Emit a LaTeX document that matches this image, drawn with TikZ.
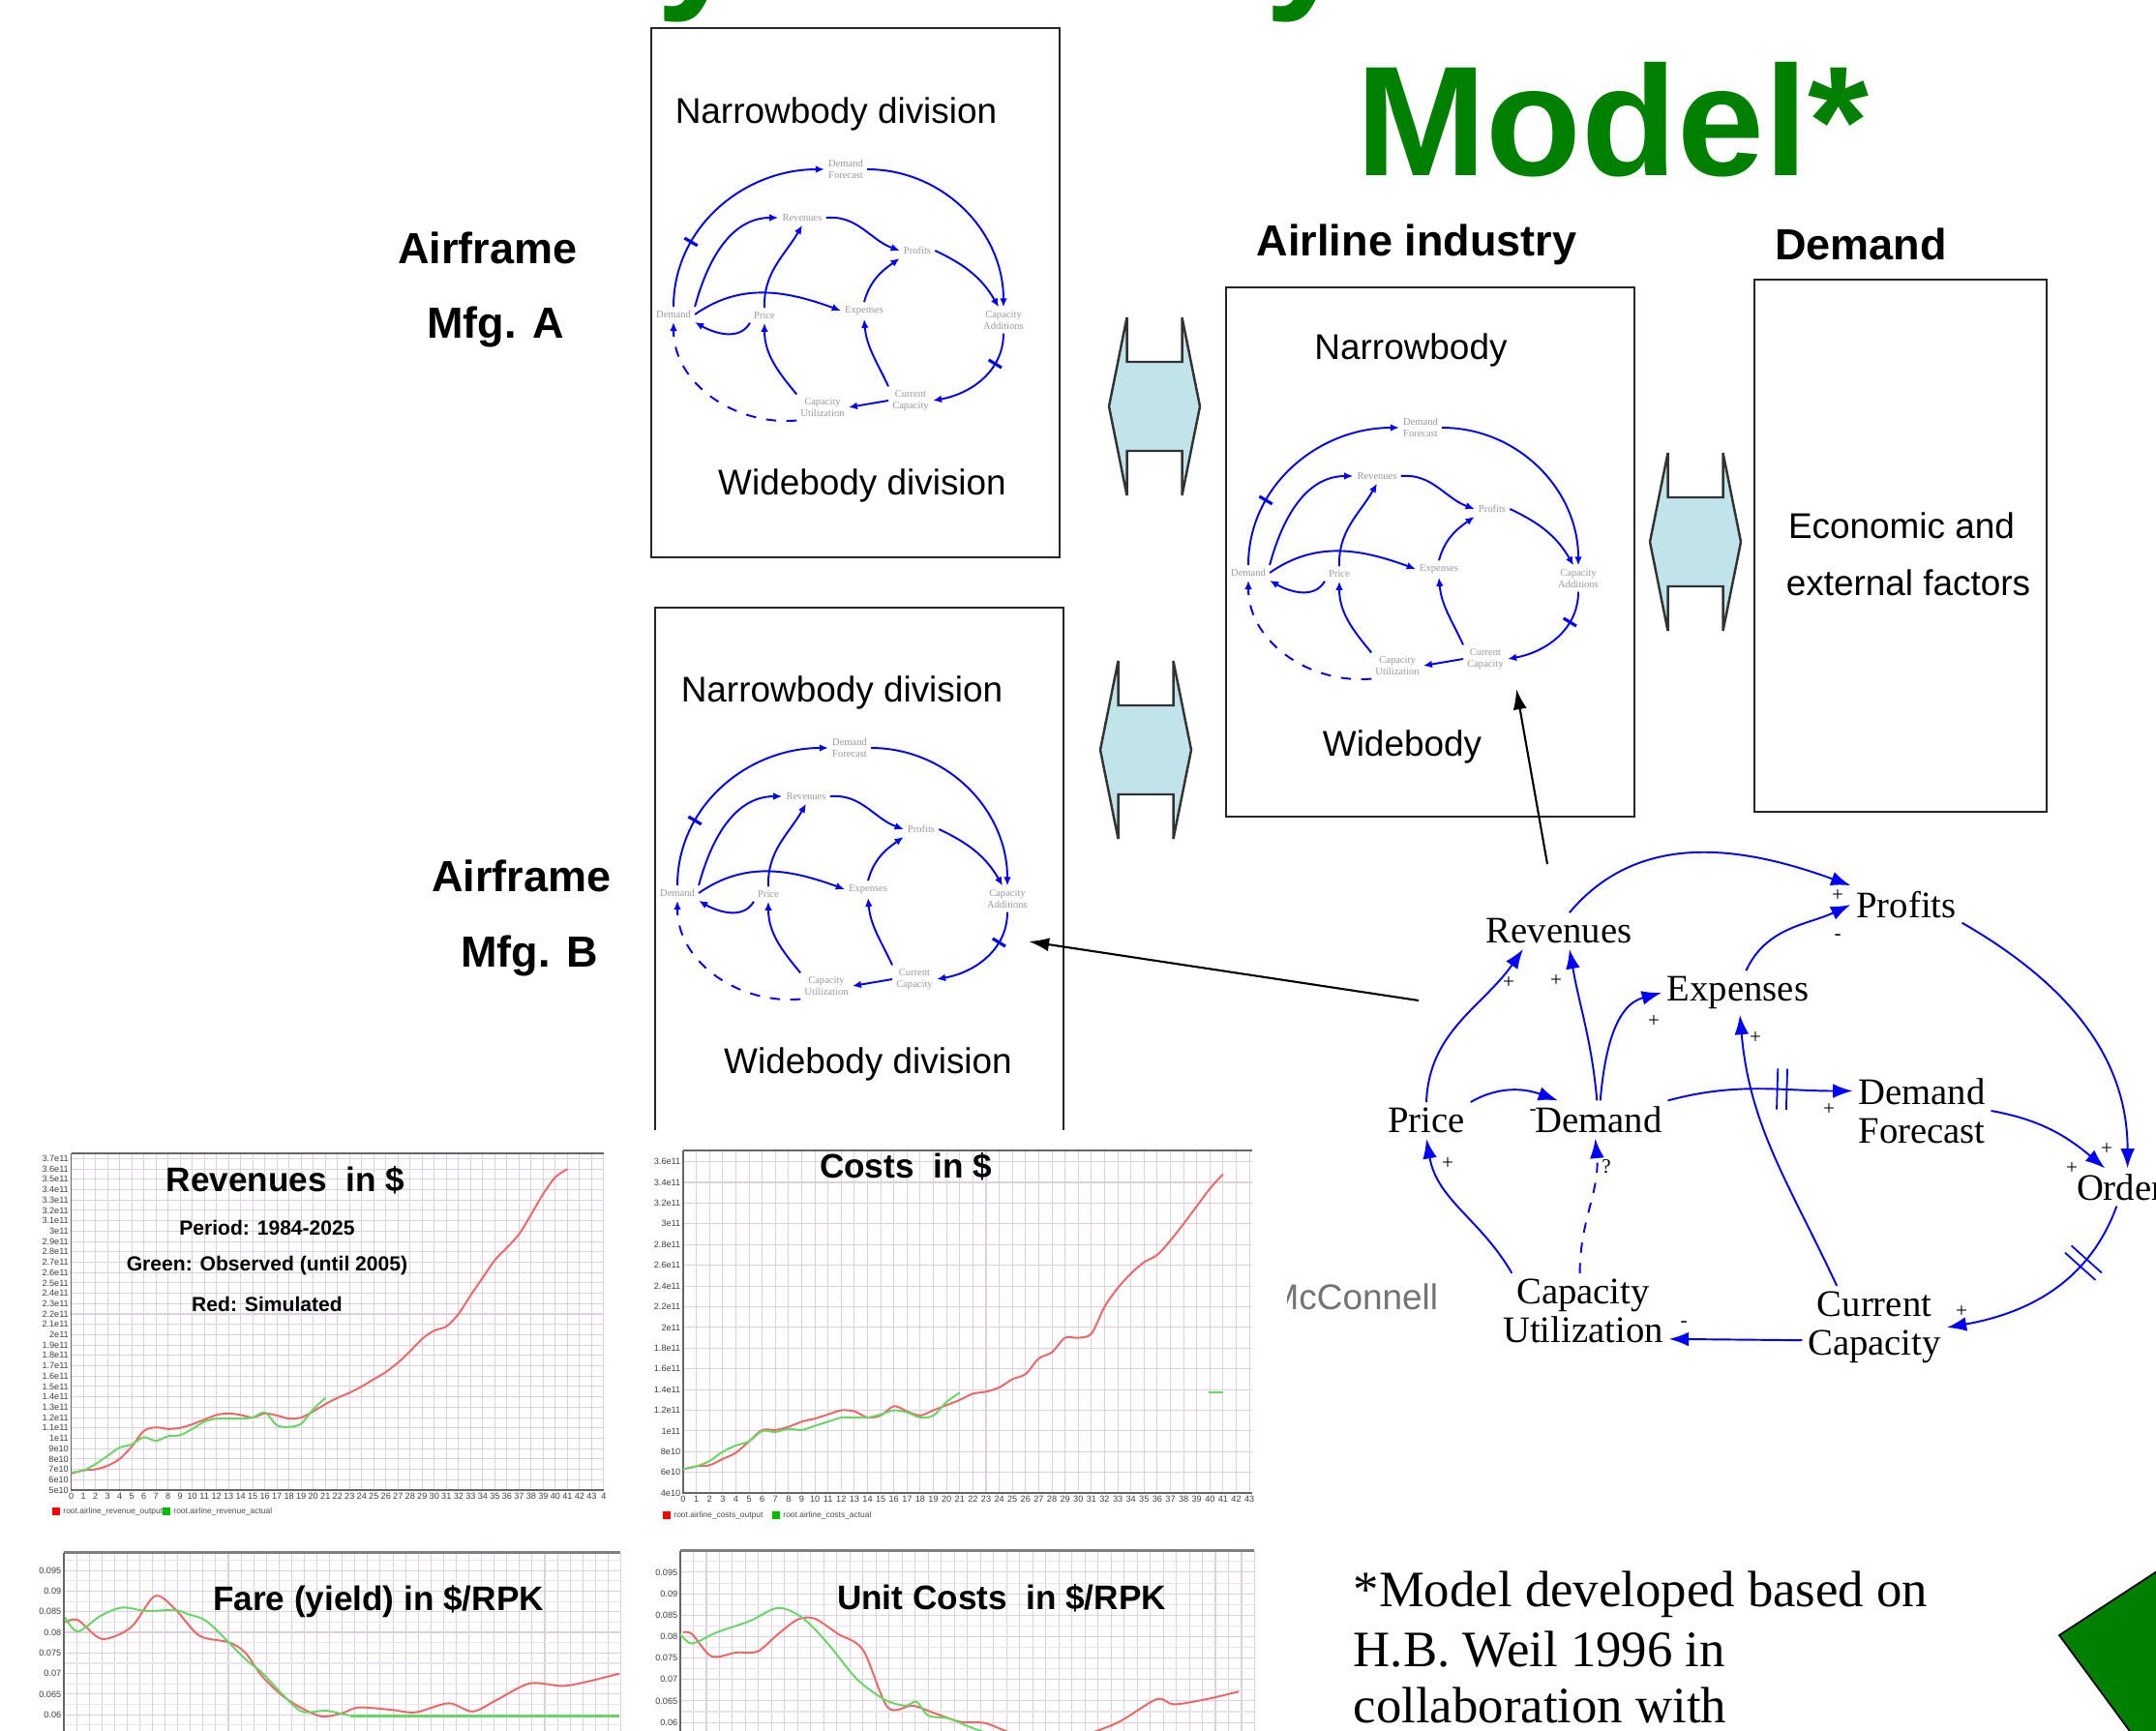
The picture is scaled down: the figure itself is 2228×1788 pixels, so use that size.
\documentclass[tikz,border=0pt]{standalone}
\usepackage{fontspec}
\setmainfont{Liberation Sans}
\newfontfamily\timesfont{Liberation Serif}
\usetikzlibrary{arrows.meta, positioning, calc, decorations.markings}

\definecolor{titlegreen}{RGB}{0,128,0}
\definecolor{couplerblue}{RGB}{193,228,234}
\definecolor{gridpink}{RGB}{222,208,224}
\definecolor{loopblue}{RGB}{0,0,255}
\definecolor{simred}{RGB}{240,100,100}
\definecolor{obsgreen}{RGB}{100,215,100}

\tikzset{
  headline/.style={font=\fontsize{46}{50}\selectfont\bfseries, text=titlegreen, inner sep=0pt},
  panel/.style={draw=black!85, line width=0.45pt},
  boxlabel/.style={font=\fontsize{12.8}{14}\selectfont\bfseries},
  divlabel/.style={font=\fontsize{10.5}{12}\selectfont},
  cvar/.style={font=\timesfont\fontsize{11}{11.5}\selectfont, inner sep=1.5pt, align=center},
  pol/.style={font=\timesfont\fontsize{6}{6}\selectfont, inner sep=0pt},
  link/.style={draw=loopblue, line width=0.55pt, -{Latex[length=5.8pt,width=4.2pt]}},
  delay/.style={postaction={decorate}, decoration={markings, mark=at position #1 with {\draw[-, loopblue, line width=0.5pt] (-1.4pt,-6pt) -- (-1.4pt,6pt) (1.4pt,-6pt) -- (1.4pt,6pt);}}},
  mini/.style={font=\timesfont\fontsize{3}{3.3}\selectfont, text=black!40, inner sep=1pt, align=center},
  minilink/.style={draw=loopblue, line width=0.55pt, -{Latex[length=2.6pt,width=2.2pt]}},
  minidelay/.style={postaction={decorate}, decoration={markings, mark=at position #1 with {\draw[-, loopblue, line width=0.9pt] (0,-2.2pt) -- (0,2.2pt);}}},
  feed/.style={draw=black, line width=0.6pt, -{Latex[length=6pt,width=4pt]}},
  gridline/.style={draw=gridpink, line width=0.3pt},
  chartaxis/.style={draw=black!60, line width=0.45pt},
  ticklabel/.style={font=\fontsize{2.6}{3}\selectfont, text=black!75, inner sep=0.6pt},
  simline/.style={draw=simred, line width=0.55pt},
  obsline/.style={draw=obsgreen, line width=0.55pt},
  charttitle/.style={font=\fontsize{10}{11}\selectfont\bfseries},
  chartnote/.style={font=\fontsize{6}{7}\selectfont\bfseries},
  legendtext/.style={font=\fontsize{2.4}{3}\selectfont, text=black!70, inner sep=0.5pt, anchor=west},
  foot/.style={font=\timesfont\fontsize{15}{17}\selectfont, inner sep=0pt, anchor=base west},
  coupler/.pic={
    \filldraw[fill=couplerblue, draw=black!80, line width=0.7pt]
      (-28.5,92) -- (-28.5,46) -- (28.5,46) -- (28.5,92) -- (47,0) -- (28.5,-92)
      -- (28.5,-46) -- (-28.5,-46) -- (-28.5,-92) -- (-47,0) -- cycle;
  },
  minicld/.pic={
    \node[mini] (-df) at (0,125) {Demand\\Forecast};
    \node[mini] (-rev) at (-45,75) {Revenues};
    \node[mini] (-prof) at (74,41) {Profits};
    \node[mini] (-dem) at (-178,-25) {Demand};
    \node[mini] (-price) at (-84,-26) {Price};
    \node[mini] (-exp) at (19,-21) {Expenses};
    \node[mini] (-cadd) at (163,-31) {Capacity\\Additions};
    \node[mini] (-cc) at (67,-114) {Current\\Capacity};
    \node[mini] (-cu) at (-24,-121) {Capacity\\Utilization};
    \draw[minilink, minidelay=0.3] (-dem.north) to[out=90,in=180] (-df.west);
    \draw[minilink] (-df.east) to[out=0,in=90] (-cadd.north);
    \draw[minilink] (-dem.north east) to[out=75,in=180] (-rev.west);
    \draw[minilink] (-rev.east) to[out=5,in=160] (-prof.west);
    \draw[minilink] (-price.north) to[out=92,in=240] (-rev.south);
    \draw[minilink] (-dem.east) to[out=35,in=160] (-exp.west);
    \draw[minilink] (-price.south west) to[out=-120,in=-30] (-dem.south east);
    \draw[minilink] (-exp.north) to[out=75,in=215] (-prof.south west);
    \draw[minilink] (-prof.east) to[out=-25,in=120] (-cadd.110);
    \draw[minilink, minidelay=0.3] (-cadd.south) to[out=-90,in=10] (-cc.east);
    \draw[minilink] (-cc.north west) to[out=115,in=-85] (-exp.south);
    \draw[minilink] (-cc.west) -- (-cu.east);
    \draw[minilink] (-cu.north west) to[out=130,in=-90] (-price.south);
    \draw[minilink, dashed] (-cu.south west) to[out=185,in=-90] (-dem.south);
  }
}

\begin{document}
\begin{tikzpicture}[x=0.01cm, y=0.01cm]
\useasboundingbox (0,-1788) rectangle (2228,0);
\clip (0,-1788) rectangle (2228,0);
\fill[white] (0,-1788) rectangle (2228,0);

% title, cut off by the top edge
\node[headline, anchor=base east] (ttop) at (1956,10) {System Dynamics};
\node[headline, anchor=base east] (tmodel) at (1932,-182) {Model*};

% manufacturers
\node[boxlabel] (afA) at (504,-256) {Airframe};
\node[boxlabel] (mfgA) at (512,-338) {Mfg. A};
\node[boxlabel] (afB) at (539,-905) {Airframe};
\node[boxlabel] (mfgB) at (547,-988) {Mfg. B};
\node[panel, minimum width=4.22cm, minimum height=5.47cm, anchor=north west] (boxA) at (672,-28) {};
\node[panel, minimum width=4.22cm, minimum height=5.63cm, anchor=north west] (boxB) at (676,-627) {};
\node[divlabel] (nbA) at (864,-118) {Narrowbody division};
\node[divlabel] (wbA) at (891,-502) {Widebody division};
\node[divlabel] (nbB) at (870,-716) {Narrowbody division};
\node[divlabel] (wbB) at (897,-1100) {Widebody division};
\pic (cldA) at (874,-300) {minicld};
\pic (cldB) at (878,-898) {minicld};

% airline industry and demand
\node[boxlabel] (airl) at (1464,-253) {Airline industry};
\node[boxlabel] (dmd) at (1923,-252) {Demand};
\node[panel, minimum width=4.22cm, minimum height=5.47cm, anchor=north west] (boxI) at (1266,-296) {};
\node[panel, minimum width=3.02cm, minimum height=5.50cm, anchor=north west] (boxD) at (1812,-288) {};
\node[divlabel] (nbI) at (1458,-362) {Narrowbody};
\node[divlabel] (wbI) at (1449,-772) {Widebody};
\node[divlabel] (econ) at (1965,-543) {Economic and};
\node[divlabel] (ext) at (1972,-602) {external factors};
\pic (cldI) at (1468,-567) {minicld};

% couplings
\pic (cplA) at (1193,-420) {coupler};
\pic (cplB) at (1184,-775) {coupler};
\pic (cplD) at (1752,-560) {coupler};

\node[anchor=base west, font=\fontsize{10.5}{12}\selectfont, text=black!55, inner sep=0pt] (mcc) at (1311,-1353) {McConnell};

% main causal loop diagram
\node[cvar] (rev) at (1611,-962) {Revenues};
\node[cvar] (prof) at (1970,-935) {Profits};
\node[cvar] (exp) at (1796,-1026) {Expenses};
\node[cvar] (price) at (1474,-1158) {Price};
\node[cvar] (dem) at (1652,-1157) {Demand};
\node[cvar] (df) at (1986,-1148) {Demand\\Forecast};
\node[cvar, anchor=west] (ord) at (2140,-1227) {Orders};
\node[cvar] (cu) at (1636,-1355) {Capacity\\Utilization};
\node[cvar] (cc) at (1937,-1372) {Current\\Capacity};

\draw[link] (rev.60) to[out=50,in=160] (prof.north west);
\draw[link] (exp.70) to[out=65,in=205] (prof.west);
\draw[link] (price.north) to[out=88,in=235] (rev.207);
\draw[link] (dem.95) to[out=95,in=-80] (rev.300);
\draw[link] (dem.85) to[out=85,in=195] (exp.west);
\draw[link] (price.north east) to[out=30,in=160] (dem.155);
\draw[link, delay=0.62] (dem.north east) to[out=15,in=180] (df.164);
\draw[link] (cc.132) to[out=115,in=-85] (exp.-85);
\draw[link] (prof.-18) to[out=-30,in=90] (ord.north);
\draw[link] (df.east) to[out=-10,in=140] (ord.140);
\draw[link, delay=0.3] (ord.240) to[out=-110,in=10] (cc.east);
\draw[link] (cc.190) -- (cu.-18);
\draw[link] (cu.152) to[out=120,in=-80] (price.south);
\draw[link, dashed] (cu.95) to[out=90,in=-85] (dem.-100);

\node[pol] (pol1) at (1899,-926) {+};
\node[pol] (pol2) at (1899,-969) {-};
\node[pol] (pol3) at (1559,-1016) {+};
\node[pol] (pol4) at (1608,-1014) {+};
\node[pol] (pol5) at (1709,-1056) {+};
\node[pol] (pol6) at (1584,-1150) {-};
\node[pol] (pol7) at (1890,-1147) {+};
\node[pol] (pol8) at (1814,-1073) {+};
\node[pol] (pol9) at (2177,-1188) {+};
\node[pol] (pol10) at (2141,-1208) {+};
\node[pol] (pol11) at (2027,-1356) {+};
\node[pol] (pol12) at (1740,-1369) {-};
\node[pol] (pol13) at (1496,-1203) {+};
\node[pol] (pol14) at (1660,-1206) {?};

% links from the loop diagram to the sectors
\coordinate (srcI) at (1599,-893);
\coordinate (tipI) at (1567,-712);
\draw[feed] (srcI) -- (tipI);
\coordinate (srcB) at (1466,-1034);
\coordinate (tipB) at (1063,-973);
\draw[feed] (srcB) -- (tipB);

% revenue chart
\fill[white] (20,-1595) rectangle (662,-1168);
\begin{scope}[shift={(73.6,-1593.5)}, x=0.125cm, y=0.107cm]
  \foreach \t in {0,...,44} \draw[gridline] (\t,5) -- (\t,37.5);
  \foreach \val in {6,...,37} \draw[gridline] (0,\val) -- (44,\val);
  \draw[chartaxis] (0,37.5) -- (44,37.5);
  \draw[chartaxis] (0,37.5) -- (0,5) -- (44,5);
  \foreach \t in {0,...,43} \node[ticklabel, below] (rx\t) at (\t,5) {\t};
  \node[ticklabel, below] (rx44) at (44,5) {4};
  \foreach \val in {5,...,9} \node[ticklabel, left] (ry\val) at (0,\val) {\val e10};
  \foreach \val/\l in {10/1,20/2,30/3} \node[ticklabel, left] (ry\val) at (0,\val) {\l e11};
  \foreach \a in {1,2} \foreach \b in {1,...,9} \node[ticklabel, left] (ry\a\b) at (0,\a\b) {\a.\b e11};
  \foreach \b in {1,...,7} \node[ticklabel, left] (ry3\b) at (0,3\b) {3.\b e11};
  \draw[simline] plot[smooth] coordinates {(0,6.6) (1,6.9) (2,7.0) (3,7.35) (4,8.0) (5,9.2) (6,10.7) (7,11.05) (8,10.9) (9,11.0) (10,11.35) (11,11.8) (12,12.25) (13,12.4) (14,12.25) (15,12.0) (16,12.4) (17,12.2) (18,11.9) (19,12.0) (20,12.6) (21,13.3) (22,13.9) (23,14.4) (24,15.0) (25,15.7) (26,16.4) (27,17.3) (28,18.4) (29,19.6) (30,20.4) (31,20.8) (32,22.0) (33,23.8) (34,25.5) (35,27.2) (36,28.4) (37,29.7) (38,31.6) (39,33.6) (40,35.2) (41,36.0)};
  \draw[obsline] plot[smooth] coordinates {(0,6.7) (1,6.9) (2,7.5) (3,8.3) (4,9.1) (5,9.4) (6,10.1) (7,9.75) (8,10.2) (9,10.3) (10,10.9) (11,11.6) (12,11.9) (13,11.9) (14,11.9) (15,12.0) (16,12.5) (17,11.25) (18,11.1) (19,11.4) (20,12.8) (21,13.9)};
\end{scope}
\fill[red] (54,-1566) rectangle (62,-1558);
\node[legendtext] (legRr) at (63,-1562) {root.airline\_revenue\_output};
\fill[green!75!black] (168,-1566) rectangle (176,-1558);
\node[legendtext] (legRg) at (177,-1562) {root.airline\_revenue\_actual};
\node[charttitle] (revT) at (295,-1220) {Revenues\ \ in \$};
\node[chartnote] (revP) at (276,-1269) {Period: 1984-2025};
\node[chartnote] (revG) at (276,-1308) {Green: Observed (until 2005)};
\node[chartnote] (revR) at (276,-1348) {Red: Simulated};

% cost chart
\fill[white] (662,-1595) rectangle (1330,-1168);
\begin{scope}[shift={(706,-1586)}, x=0.136cm, y=0.107cm]
  \foreach \t in {0,...,43} \draw[gridline] (\t,4) -- (\t,37.1);
  \foreach \val in {6,8,...,36} \draw[gridline] (0,\val) -- (43.2,\val);
  \draw[chartaxis] (0,37.1) -- (43.2,37.1);
  \draw[chartaxis] (0,37.1) -- (0,4) -- (43.2,4);
  \foreach \t in {0,...,43} \node[ticklabel, below] (cx\t) at (\t,4) {\t};
  \foreach \val in {4,6,8} \node[ticklabel, left] (cy\val) at (0,\val) {\val e10};
  \foreach \val/\l in {10/1,20/2,30/3} \node[ticklabel, left] (cy\val) at (0,\val) {\l e11};
  \foreach \a in {1,2} \foreach \b in {2,4,6,8} \node[ticklabel, left] (cy\a\b) at (0,\a\b) {\a.\b e11};
  \foreach \b in {2,4,6} \node[ticklabel, left] (cy3\b) at (0,3\b) {3.\b e11};
  \draw[simline] plot[smooth] coordinates {(0,6.3) (1,6.6) (2,6.7) (3,7.3) (4,7.9) (5,9.0) (6,10.1) (7,10.1) (8,10.4) (9,10.9) (10,11.2) (11,11.6) (12,12.0) (13,11.9) (14,11.3) (15,11.5) (16,12.4) (17,11.9) (18,11.5) (19,12.0) (20,12.5) (21,13.0) (22,13.6) (23,13.8) (24,14.2) (25,15.0) (26,15.5) (27,17.0) (28,17.6) (29,19.0) (30,19.0) (31,19.4) (32,22.0) (33,23.8) (34,25.2) (35,26.3) (36,27.0) (37,28.4) (38,30.0) (39,31.7) (40,33.4) (41,34.8)};
  \draw[obsline] plot[smooth] coordinates {(0,6.3) (1,6.6) (2,7.1) (3,8.0) (4,8.6) (5,9.0) (6,10.0) (7,9.9) (8,10.2) (9,10.1) (10,10.5) (11,10.9) (12,11.3) (13,11.3) (14,11.3) (15,11.6) (16,12.0) (17,11.8) (18,11.3) (19,11.5) (20,12.8) (21,13.7)};
  \draw[obsline] (39.9,13.7) -- (41,13.7);
\end{scope}
\fill[red] (685,-1570) rectangle (693,-1562);
\node[legendtext] (legCr) at (694,-1566) {root.airline\_costs\_output};
\fill[green!75!black] (798,-1570) rectangle (806,-1562);
\node[legendtext] (legCg) at (807,-1566) {root.airline\_costs\_actual};
\node[charttitle] (costT) at (936,-1206) {Costs\ \ in \$};

% fare chart
\fill[white] (0,-1788) rectangle (662,-1595);
\begin{scope}[shift={(66,-2028)}, x=0.1307cm, y=0.0426cm]
  \foreach \t in {0,...,44} \draw[gridline] (\t,55) -- (\t,99.3);
  \foreach \val in {57.5,62.5,...,97.5} \draw[gridline, draw=gridpink!60] (0,\val) -- (44,\val);
  \foreach \val in {60,65,...,95} \draw[gridline] (0,\val) -- (44,\val);
  \draw[chartaxis, line width=0.9pt, draw=black!50] (0,99.3) -- (44,99.3);
  \draw[chartaxis] (0,99.3) -- (0,55);
  \foreach \val/\l in {95/0.095,90/0.09,85/0.085,80/0.08,75/0.075,70/0.07,65/0.065,60/0.06}
    \node[ticklabel, left] (fy\val) at (0,\val) {\l};
  \draw[simline] plot[smooth] coordinates {(0.1,82.4) (1.1,83.0) (3,78.4) (5.3,81.2) (7.2,88.8) (8.8,85.6) (10.7,79.2) (13,77.6) (14.3,75.2) (15.6,69.6) (17.2,64.8) (18.8,61.6) (20.4,59.6) (22,60.4) (23.3,61.8) (25.9,61.2) (27.8,60.6) (30.4,62.8) (32.3,60.8) (34.2,63.6) (36.8,67.6) (39.4,67.0) (41.3,68.0) (43.9,70.0)};
  \draw[obsline] plot[smooth] coordinates {(0.1,83.6) (1.1,80.2) (2.9,84.0) (4.6,86.0) (6.5,85.2) (8.8,85.4) (9.8,84.4) (11.4,82.4) (14.3,73.6) (15.6,70.4) (17.2,65.2) (18.8,60.8) (20.7,61.0) (22,60.2) (22.6,59.8)};
  \draw[obsline, line width=0.8pt] (22.6,59.8) -- (43.9,59.8);
\end{scope}
\node[charttitle] (fareT) at (391,-1655) {Fare (yield) in \$/RPK};

% unit cost chart
\fill[white] (662,-1788) rectangle (1320,-1595);
\begin{scope}[shift={(703,-2046)}, x=0.1348cm, y=0.0443cm]
  \foreach \t in {0,...,44} \draw[gridline] (\t,55) -- (\t,100);
  \foreach \val in {57.5,62.5,...,97.5} \draw[gridline, draw=gridpink!60] (0,\val) -- (44,\val);
  \foreach \val in {60,65,...,95} \draw[gridline] (0,\val) -- (44,\val);
  \draw[chartaxis, line width=0.9pt, draw=black!50] (0,100) -- (44,100);
  \draw[chartaxis] (0,100) -- (0,55);
  \foreach \val/\l in {95/0.095,90/0.09,85/0.085,80/0.08,75/0.075,70/0.07,65/0.065,60/0.06}
    \node[ticklabel, left] (uy\val) at (0,\val) {\l};
  \draw[simline] plot[smooth] coordinates {(0.2,81.0) (0.9,80.6) (2.4,75.4) (4.3,76.3) (5.9,76.5) (7.5,80.6) (9.0,84.0) (10.3,84.2) (12.1,80.6) (14,76.9) (15.9,63.5) (17.8,63.9) (19.6,62.0) (21.5,60.1) (23.4,59.8) (26,57) (30,56.5) (33.4,59.8) (36.5,65.4) (37.8,64.2) (40.3,65.4) (42.8,67.2)};
  \draw[obsline] plot[smooth] coordinates {(0,80.6) (0.9,78.4) (2.8,81.0) (5.3,83.6) (7.5,86.7) (9.4,84.3) (11.3,78.4) (13.5,70.2) (15.6,65.4) (17.2,63.9) (18.1,64.8) (19,61.6) (20.6,60.9) (22.1,59.0) (24,57)};
\end{scope}
\node[charttitle] (unitT) at (1035,-1652) {Unit Costs\ \ in \$/RPK};

% footnote
\node[foot] (note1) at (1398,-1660) {*Model developed based on};
\node[foot] (note2) at (1398,-1722) {H.B. Weil 1996 in};
\node[foot] (note3) at (1398,-1780) {collaboration with};

\filldraw[fill=titlegreen, draw=black, line width=0.5pt] (2128,-1690) -- (2232,-1622) -- (2232,-1792) -- (2203,-1792) -- cycle;
\end{tikzpicture}
\end{document}
